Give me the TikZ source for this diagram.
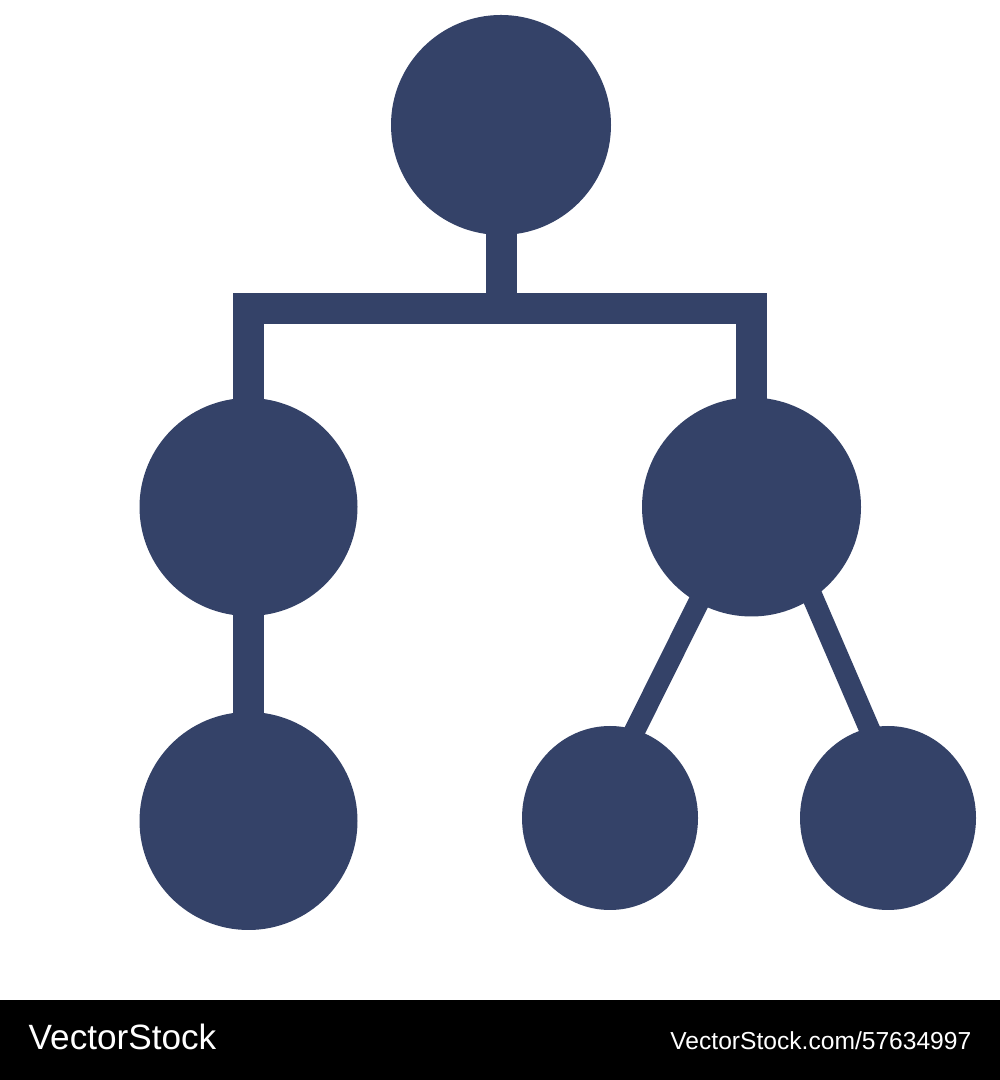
\documentclass[tikz,border=0pt]{standalone}
\usepackage{fontspec}
\setmainfont{Liberation Sans}
\usepackage{tikz}
\usetikzlibrary{shapes.geometric,backgrounds}
\definecolor{tree}{HTML}{344268}

\begin{document}
\begin{tikzpicture}[
        dot/.style={circle,fill=tree,inner sep=0pt,minimum size=#1},
        leaf/.style={ellipse,fill=tree,inner sep=0pt,minimum width=1.76cm,minimum height=1.84cm},
        link/.style={draw=tree,line width=0.31cm,shorten <=-3pt,shorten >=-3pt},
        twig/.style={draw=tree,line width=0.21cm,shorten <=-4pt,shorten >=-4pt},
        mark text/.style={text=white,inner sep=0pt}
        ]
        \useasboundingbox (0,0) rectangle (10,10.8);

        \path
        (5.01,9.55) node[dot=2.2cm](top) {}
        (2.485,5.73) node[dot=2.18cm](left) {}
        (7.515,5.73) node[dot=2.19cm](right) {}
        (2.485,2.59) node[dot=2.18cm](leftleaf) {}
        (6.10,2.62) node[leaf](midleaf) {}
        (8.88,2.62) node[leaf](rightleaf) {}
        ;
        \coordinate (bar) at (5.01,7.71);

        \begin{pgfonlayer}{background}
        \fill[white] (0,0.8) rectangle (10,10.8);
        \fill[black] (0,0) rectangle (10,0.8);
        \draw[link,shorten >=0pt] (top) -- (bar);
        \draw[link] (left) |- (bar) -| (right);
        \draw[link] (left) -- (leftleaf);
        \draw[twig] (right.241) -- (midleaf.74);
        \draw[twig] (right.304) -- (rightleaf.102);
        \end{pgfonlayer}

        % watermark strip
        \node[mark text,anchor=base west,font=\fontsize{10}{12}\selectfont] (brand) at (0.28,0.30) {VectorStock};
        \node[mark text,anchor=base east,font=\fontsize{7}{9}\selectfont] (url) at (9.72,0.30) {VectorStock.com/57634997};
\end{tikzpicture}
\end{document}
